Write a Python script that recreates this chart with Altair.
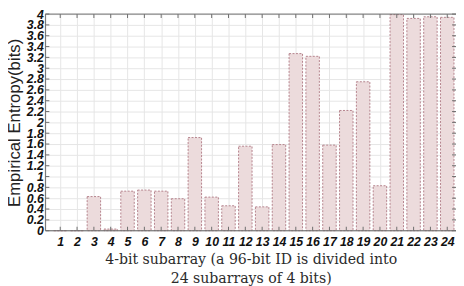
import altair as alt
import pandas as pd

categories = list(range(1, 25))
entropy = [0.0, 0.0, 0.63, 0.03, 0.73, 0.75, 0.73, 0.59, 1.72, 0.62, 0.46, 1.56,
           0.44, 1.59, 3.27, 3.22, 1.58, 2.22, 2.75, 0.83, 3.99, 3.92, 3.95, 3.94]
y_ticks = [round(0.2 * i, 1) for i in range(21)]
x_title = ["4-bit subarray (a 96-bit ID is divided into",
           "\u00a0" * 6 + "24 subarrays of 4 bits)"]
y_title = "Empirical Entropy(bits)"

df = pd.DataFrame({"cat": categories, "val": entropy})
ticks_df = pd.DataFrame({"t": y_ticks})

XDOM = [0.12, 24.52]
W, H = 417, 220

xs = alt.Scale(domain=XDOM, nice=False, zero=False)
ys = alt.Scale(domain=[0, 4], nice=False)

label_expr = "datum.value == 0 ? '0' : (abs(datum.value - round(datum.value)) < 0.001 ? format(datum.value, 'd') : format(datum.value, '.1f'))"

X_AXIS = alt.Axis(values=categories, format="d", title=x_title,
                  grid=True, gridColor="#e6e6e6", tickSize=0, domain=False,
                  labelOverlap=False, labelFlush=False,
                  labelFont="Liberation Sans", labelFontWeight="bold", labelFontStyle="italic",
                  labelFontSize=12.5, labelColor="#111111", labelPadding=5,
                  titleFont="DejaVu Serif", titleFontWeight="normal", titleFontSize=14.3,
                  titleColor="#2b2b2b", titleLineHeight=19, titlePadding=5)
Y_AXIS = alt.Axis(values=y_ticks, labelExpr=label_expr, title=y_title,
                  grid=True, gridColor="#e6e6e6", tickSize=0, domain=False,
                  labelOverlap=False, labelFlush=False,
                  labelFont="Liberation Sans", labelFontWeight="bold", labelFontStyle="italic",
                  labelFontSize=12.5, labelColor="#111111", labelPadding=2,
                  titleFont="Liberation Sans", titleFontWeight="normal", titleFontSize=17,
                  titleColor="#222222", titleX=-22, titleY=H / 2)

base = alt.Chart(df)

bars = base.transform_calculate(
    x0="datum.cat - 0.4", x1="datum.cat + 0.4"
).mark_bar(
    fill="#ecdbdc", stroke="#b5828c", strokeDash=[2, 1.5], strokeWidth=1
).encode(
    x=alt.X("x0:Q", scale=xs, axis=X_AXIS),
    x2="x1:Q",
    y=alt.Y("val:Q", scale=ys, axis=Y_AXIS),
    y2=alt.datum(0),
)

# frame lines (left, top, bottom)
one = pd.DataFrame({"a": [0]})
left_line = alt.Chart(one).mark_rule(color="#6e6e6e", strokeWidth=1).encode(
    x=alt.value(0), y=alt.value(0), y2=alt.value(H))
top_line = alt.Chart(one).mark_rule(color="#6e6e6e", strokeWidth=1).encode(
    x=alt.value(0), x2=alt.value(W), y=alt.value(0))
bottom_line = alt.Chart(one).mark_rule(color="#6e6e6e", strokeWidth=1).encode(
    x=alt.value(0), x2=alt.value(W), y=alt.value(H))

# inward ticks
top_ticks = base.mark_rule(color="#6e6e6e").encode(
    x=alt.X("cat:Q", scale=xs, axis=X_AXIS), y=alt.value(0), y2=alt.value(4))
bottom_ticks = base.mark_rule(color="#6e6e6e").encode(
    x=alt.X("cat:Q", scale=xs, axis=X_AXIS), y=alt.value(H), y2=alt.value(H - 4))
left_ticks = alt.Chart(ticks_df).mark_rule(color="#6e6e6e").encode(
    y=alt.Y("t:Q", scale=ys, axis=Y_AXIS), x=alt.value(0), x2=alt.value(4))
right_ticks = alt.Chart(ticks_df).mark_rule(color="#6e6e6e").encode(
    y=alt.Y("t:Q", scale=ys, axis=Y_AXIS), x=alt.value(W - 4), x2=alt.value(W))

chart = alt.layer(bars, top_ticks, bottom_ticks, left_ticks, right_ticks,
                  left_line, top_line, bottom_line).properties(
    width=W, height=H,
    autosize=alt.AutoSizeParams(type="none"),
    padding={"left": 38, "top": 4, "right": 0, "bottom": 54},
).configure_view(stroke=None).configure(background="white")

chart.save("out.html", embed_options={"renderer": "svg", "actions": False})
